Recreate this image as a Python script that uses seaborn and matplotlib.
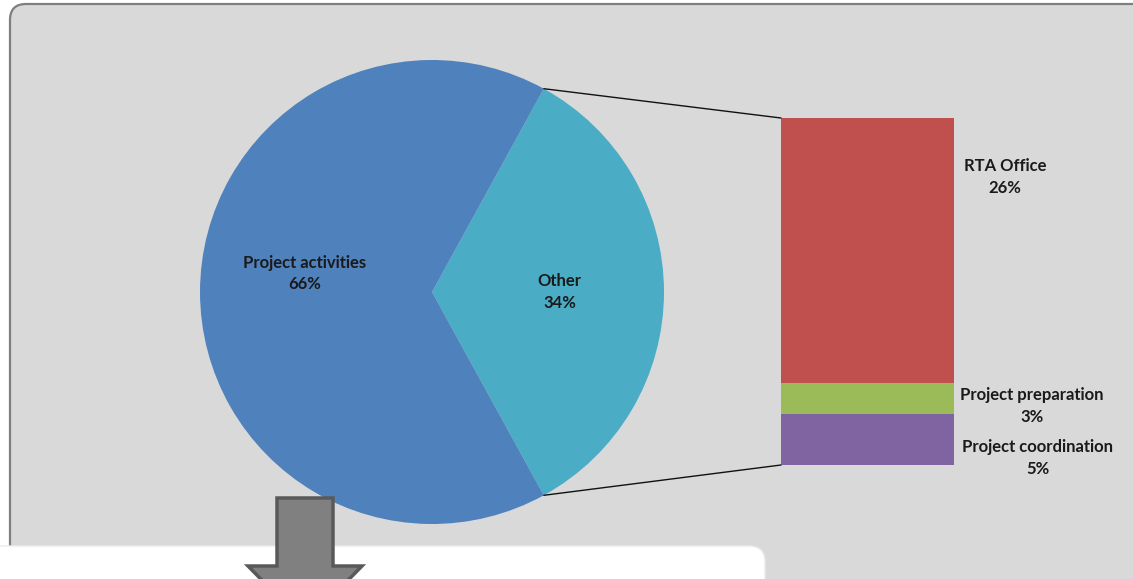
import numpy as np
import matplotlib
matplotlib.use("Agg")
import matplotlib.pyplot as plt
from matplotlib.patches import FancyBboxPatch, Polygon, ConnectionPatch
import seaborn as sns

# data
pie_labels = ["Other", "Project activities"]
pie_values = [34, 66]
pie_colors = ["#4BACC6", "#4F81BD"]

bar_labels = ["RTA Office", "Project preparation", "Project coordination"]
bar_values = [26, 3, 5]
bar_colors = ["#C0504D", "#9BBB59", "#8064A2"]

sns.set_style("white")
plt.rcParams["font.family"] = ["Lato", "DejaVu Sans"]
plt.rcParams["font.weight"] = "bold"

W, H = 1133, 579
fig = plt.figure(figsize=(W / 100, H / 100), dpi=100)
fig.patch.set_facecolor("white")

def frac(x0, y0, x1, y1):
    # pixel box (top-left origin) -> figure fraction rect
    return [x0 / W, 1 - y1 / H, (x1 - x0) / W, (y1 - y0) / H]

# background panel
bg = fig.add_axes([0, 0, 1, 1], zorder=0)
bg.set_xlim(0, W)
bg.set_ylim(H, 0)
bg.axis("off")
bg.add_patch(FancyBboxPatch((10, 4), W + 40, H + 40,
                            boxstyle="round,pad=0,rounding_size=16",
                            facecolor="#D9D9D9", edgecolor="#7F7F7F", linewidth=1.6))

# pie
cx, cy, r = 432, 292, 232
axp = fig.add_axes(frac(cx - r, cy - r, cx + r, cy + r), zorder=2)
start = -pie_values[0] / 100 * 180
texts = [f"{l}\n{v}%" for l, v in zip(pie_labels, pie_values)]
wedges, tx = axp.pie(pie_values, colors=pie_colors, startangle=start, radius=1,
                     labels=texts, labeldistance=0.55,
                     wedgeprops=dict(linewidth=0),
                     textprops=dict(fontsize=12, fontweight="bold", color="#1a1a1a",
                                    ha="center", va="center", linespacing=1.4))
# big slice label sits a little above centre line
x, y = tx[1].get_position()
tx[1].set_position((x, y + 0.08))
axp.set_xlim(-1, 1)
axp.set_ylim(-1, 1)
axp.set_aspect("equal")
axp.axis("off")

# bar of pie
axb = fig.add_axes(frac(781, 118, 954, 465), zorder=2)
stack = np.cumsum(bar_values[::-1])[::-1]
for h, c in zip(stack, bar_colors):
    sns.barplot(x=[0], y=[h], color=c, width=1, saturation=1, linewidth=0, ax=axb)
axb.set_xlim(-0.5, 0.5)
axb.set_ylim(0, sum(bar_values))
axb.axis("off")

# connector lines
a1 = np.deg2rad(start + pie_values[0] / 100 * 360)
a0 = np.deg2rad(start)
for ang, yb in [(a1, sum(bar_values)), (a0, 0)]:
    con = ConnectionPatch(xyA=(np.cos(ang), np.sin(ang)), coordsA=axp.transData,
                          xyB=(-0.5, yb), coordsB=axb.transData,
                          color="#111111", linewidth=1.0, zorder=3)
    fig.add_artist(con)

# overlay: bar labels, white box, arrow
top = fig.add_axes([0, 0, 1, 1], zorder=4)
top.set_xlim(0, W)
top.set_ylim(H, 0)
top.axis("off")
top.patch.set_alpha(0)

label_pos = [(1005, 177), (1032, 406), (1038, 458)]
for (x, y), l, v in zip(label_pos, bar_labels, bar_values):
    top.text(x, y, f"{l}\n{v}%", ha="center", va="center", fontsize=12,
             fontweight="bold", color="#1a1a1a", linespacing=1.4)

top.add_patch(FancyBboxPatch((-40, 546), 805, 80,
                             boxstyle="round,pad=0,rounding_size=16",
                             facecolor="white", edgecolor="#EBEBEB", linewidth=1.0))

arrow = Polygon([(277, 498), (333, 498), (333, 566), (362, 566), (305, 624),
                 (248, 566), (277, 566)], closed=True,
                facecolor="#808080", edgecolor="#595959", linewidth=2.5)
top.add_patch(arrow)

fig.savefig("out.png", dpi=100)
